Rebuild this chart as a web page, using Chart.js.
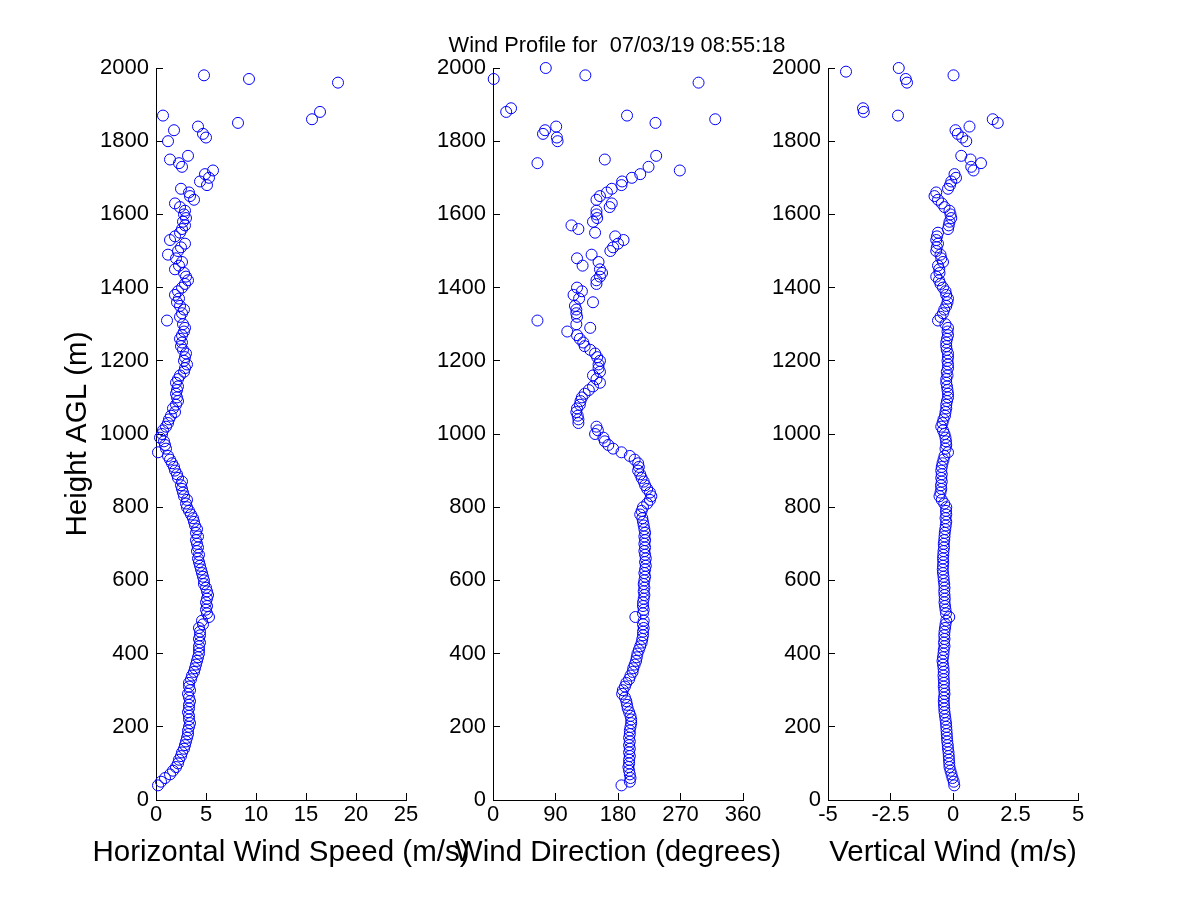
<!DOCTYPE html>
<html>
<head>
<meta charset="utf-8">
<title>Wind Profile</title>
<script src="https://cdn.jsdelivr.net/npm/chart.js@4.4.1/dist/chart.umd.min.js"></script>
<style>
  body { margin: 0; background: #fff; }
  #wrap { position: relative; width: 1200px; height: 900px; }
  #wrap canvas { position: absolute; left: 0; top: 0; }
</style>
</head>
<body>
<div id="wrap">
  <canvas id="speed-chart" width="1200" height="900"></canvas>
  <canvas id="dir-chart" width="1200" height="900"></canvas>
  <canvas id="vert-chart" width="1200" height="900"></canvas>
</div>
<script>
// heights (m AGL), top down; null = no value at that gate
const heights = [
  2000,
  1990, 1980, 1970, 1960, 1950, 1940, 1930, 1920, 1910, 1900,
  1890, 1880, 1870, 1860, 1850, 1840, 1830, 1820, 1810, 1800,
  1790, 1780, 1770, 1760, 1750, 1740, 1730, 1720, 1710, 1700,
  1690, 1680, 1670, 1660, 1650, 1640, 1630, 1620, 1610, 1600,
  1590, 1580, 1570, 1560, 1550, 1540, 1530, 1520, 1510, 1500,
  1490, 1480, 1470, 1460, 1450, 1440, 1430, 1420, 1410, 1400,
  1390, 1380, 1370, 1360, 1350, 1340, 1330, 1320, 1310, 1300,
  1290, 1280, 1270, 1260, 1250, 1240, 1230, 1220, 1210, 1200,
  1190, 1180, 1170, 1160, 1150, 1140, 1130, 1120, 1110, 1100,
  1090, 1080, 1070, 1060, 1050, 1040, 1030, 1020, 1010, 1000,
  990, 980, 970, 960, 950, 940, 930, 920, 910, 900,
  890, 880, 870, 860, 850, 840, 830, 820, 810, 800,
  790, 780, 770, 760, 750, 740, 730, 720, 710, 700,
  690, 680, 670, 660, 650, 640, 630, 620, 610, 600,
  590, 580, 570, 560, 550, 540, 530, 520, 510, 500,
  490, 480, 470, 460, 450, 440, 430, 420, 410, 400,
  390, 380, 370, 360, 350, 340, 330, 320, 310, 300,
  290, 280, 270, 260, 250, 240, 230, 220, 210, 200,
  190, 180, 170, 160, 150, 140, 130, 120, 110, 100,
  90, 80, 70, 60, 50, 40
];

const hSpeed = [
  null,
  null, 4.8, 9.3, 18.2, null, null, null, null, null, null,
  null, 16.4, 0.7, 15.6, 8.2, 4.2, 1.8, 4.7, 5.0, 1.2,
  null, null, null, 3.2, 1.4, 2.3, 2.6, 5.7, 4.9, 5.3,
  4.4, 5.1, 2.5, 3.3, 3.4, 3.8, 1.9, 2.4, 2.9, 2.8,
  3.0, 2.7, 2.9, 2.6, 2.4, 1.9, 1.4, 2.9, 2.5, 2.2,
  1.2, 2.0, 2.6, 2.3, 1.9, 2.8, 3.0, 3.2, 2.9, 2.6,
  2.2, 1.9, 2.3, 2.1, 2.4, 2.8, 2.6, 2.4, 1.1, 2.7,
  2.9, 2.8, 2.6, 2.4, 2.6, 2.5, 2.7, 3.0, 2.9, 2.8,
  3.1, 2.9, 2.8, 2.4, 2.2, 2.0, 2.2, 2.1, 2.0, 2.1,
  2.2, 2.0, 1.7, 1.9, 1.5, 1.3, 1.2, 1.0, 0.7, 0.6,
  0.4, 0.8, 0.9, 1.0, 0.2, 1.2, 1.4, 1.6, 1.8, 1.9,
  2.1, 2.2, 2.6, 2.5, 2.6, 2.7, 2.8, 3.1, 3.0, 3.1,
  3.3, 3.5, 3.7, 3.8, 3.9, 4.1, 4.0, 4.2, 4.0, 4.1,
  4.2, 4.1, 4.3, 4.2, 4.3, 4.4, 4.5, 4.6, 4.7, 4.8,
  4.8, 5.0, 5.1, 5.2, 5.1, 5.0, 5.1, 5.0, 5.1, 5.3,
  4.6, 4.7, 4.3, 4.4, 4.4, 4.3, 4.4, 4.3, 4.3, 4.3,
  4.2, 4.1, 4.0, 3.9, 3.8, 3.6, 3.5, 3.3, 3.3, 3.4,
  3.2, 3.3, 3.4, 3.3, 3.3, 3.2, 3.3, 3.3, 3.4, 3.3,
  3.2, 3.2, 3.1, 3.0, 2.9, 2.8, 2.6, 2.5, 2.3, 2.2,
  2.0, 1.7, 1.4, 0.9, 0.5, 0.2
];

const windDir = [
  76,
  null, 133, 1, 296, null, null, null, null, null, null,
  26, 19, 193, 320, 234, 91, 75, 72, 92, 93,
  null, null, null, 235, 161, 64, 224, 269, 212, 200,
  186, 185, 171, 164, 154, 149, 171, 168, 149, 149,
  150, 144, 113, 123, 147, 176, 188, 180, 173, 169,
  142, 121, 152, 129, 154, 157, 154, 149, 149, 121,
  128, 116, 124, 144, 118, 120, 120, 121, 64, 120,
  140, 107, 121, 125, 130, 132, 140, 147, 150, 154,
  152, 152, 154, 144, 149, 154, 144, 138, 132, 128,
  126, 125, 121, 120, 122, 123, 123, 149, 151, 147,
  159, 161, 166, 173, 185, 197, 204, 209, 210, 209,
  212, 214, 217, 219, 222, 226, 228, 226, 222, 216,
  214, 212, 215, 216, 217, 218, 219, 218, 219, 218,
  219, 218, 219, 220, 219, 220, 219, 218, 219, 218,
  217, 218, 217, 218, 217, 216, 216, 217, 216, 205,
  217, 216, 217, 216, 216, 215, 214, 212, 210, 208,
  207, 206, 204, 202, 201, 198, 196, 192, 190, 187,
  186, 190, 192, 193, 194, 196, 198, 199, 199, 198,
  197, 197, 196, 197, 196, 197, 196, 197, 196, 196,
  195, 196, 197, 198, 197, 185
];

const vertWind = [
  -2.17,
  -4.28, 0.02, -1.89, -1.84, null, null, null, null, null, null,
  -3.6, -3.57, -2.2, 1.59, 1.79, 0.66, 0.1, 0.19, 0.37, 0.53,
  null, null, null, 0.33, 0.7, 1.12, 0.73, 0.82, 0.06, 0.12,
  -0.07, -0.12, -0.2, -0.67, -0.74, -0.6, -0.45, -0.34, -0.14, -0.1,
  -0.07, -0.14, -0.17, -0.2, -0.6, -0.64, -0.67, -0.6, -0.65, -0.67,
  -0.5, -0.47, -0.4, -0.6, -0.55, -0.54, -0.67, -0.56, -0.5, -0.4,
  -0.3, -0.27, -0.2, -0.22, -0.27, -0.35, -0.4, -0.5, -0.6, -0.3,
  -0.2, -0.22, -0.2, -0.24, -0.27, -0.27, -0.25, -0.2, -0.2, -0.22,
  -0.2, -0.2, -0.25, -0.22, -0.27, -0.27, -0.24, -0.22, -0.2, -0.2,
  -0.24, -0.27, -0.27, -0.3, -0.32, -0.38, -0.42, -0.47, -0.4, -0.34,
  -0.3, -0.28, -0.27, -0.3, -0.2, -0.34, -0.38, -0.42, -0.45, -0.47,
  -0.45, -0.47, -0.45, -0.48, -0.47, -0.5, -0.54, -0.45, -0.35, -0.27,
  -0.28, -0.27, -0.3, -0.27, -0.29, -0.31, -0.33, -0.34, -0.35, -0.37,
  -0.36, -0.38, -0.39, -0.4, -0.39, -0.4, -0.41, -0.4, -0.38, -0.37,
  -0.35, -0.34, -0.35, -0.34, -0.33, -0.34, -0.32, -0.3, -0.28, -0.15,
  -0.27, -0.3, -0.32, -0.34, -0.35, -0.34, -0.36, -0.34, -0.37, -0.38,
  -0.4, -0.42, -0.4, -0.38, -0.37, -0.38, -0.37, -0.36, -0.37, -0.35,
  -0.34, -0.36, -0.37, -0.36, -0.35, -0.34, -0.32, -0.3, -0.28, -0.27,
  -0.26, -0.25, -0.24, -0.23, -0.21, -0.2, -0.18, -0.17, -0.16, -0.15,
  -0.14, -0.1, -0.06, -0.02, 0.03, 0.05
];

const heightTicks = [0, 200, 400, 600, 800, 1000, 1200, 1400, 1600, 1800, 2000];
const speedTicks = [0, 5, 10, 15, 20, 25];
const dirTicks = [0, 90, 180, 270, 360];
const vertTicks = [-5, -2.5, 0, 2.5, 5];

const titleText = 'Wind Profile for  07/03/19 08:55:18';
const FONT = '"Liberation Sans", Arial, Helvetica, sans-serif';

Chart.defaults.font.family = FONT;
Chart.defaults.color = '#000';

// x-axis labels are wider than the panels, so draw them by hand (no maxWidth squeeze)
const panelText = {
  id: 'panelText',
  afterDraw(chart, args, opts) {
    const ctx = chart.ctx;
    const a = chart.chartArea;
    ctx.save();
    ctx.fillStyle = '#000';
    ctx.textAlign = 'center';
    ctx.textBaseline = 'alphabetic';
    ctx.font = '29.5px ' + FONT;
    ctx.fillText(opts.xLabel, (a.left + a.right) / 2, 861);
    if (opts.title) {
      ctx.font = '21.8px ' + FONT;
      ctx.fillText(opts.title, 617, 52);
    }
    ctx.restore();
  }
};

function toPoints(values) {
  const pts = [];
  heights.forEach((h, i) => {
    if (values[i] !== null) pts.push({ x: values[i], y: h });
  });
  return pts;
}

function makePanel(id, values, xTicks, padLeft, padRight, xLabel, opts) {
  opts = opts || {};
  const ctx = document.getElementById(id).getContext('2d');
  return new Chart(ctx, {
    type: 'scatter',
    data: {
      datasets: [{
        data: toPoints(values),
        pointStyle: 'circle',
        pointRadius: 5.5,
        pointHoverRadius: 5.5,
        borderColor: '#0000ff',
        backgroundColor: 'rgba(0,0,0,0)',
        borderWidth: 1,
        clip: 10
      }]
    },
    options: {
      responsive: false,
      animation: false,
      devicePixelRatio: 1,
      events: [],
      layout: { padding: { left: padLeft, right: padRight, top: 68, bottom: 0 } },
      scales: {
        x: {
          type: 'linear',
          position: 'bottom',
          min: xTicks[0],
          max: xTicks[xTicks.length - 1],
          afterBuildTicks: s => { s.ticks = xTicks.map(v => ({ value: v })); },
          afterFit: s => { s.height = 100; },
          ticks: { font: { size: 22 }, padding: 9, autoSkip: false, maxRotation: 0, callback: v => String(v) },
          grid: { drawOnChartArea: false, tickLength: -7, color: '#000' },
          border: { color: '#000', width: 1 }
        },
        y: {
          type: 'linear',
          position: 'left',
          min: 0,
          max: 2000,
          afterBuildTicks: s => { s.ticks = heightTicks.map(v => ({ value: v })); },
          afterFit: s => { s.width = 100; },
          ticks: { font: { size: 22 }, padding: 14, autoSkip: false, callback: v => String(v) },
          grid: { drawOnChartArea: false, tickLength: -7, color: '#000' },
          border: { color: '#000', width: 1 },
          title: {
            display: !!opts.yLabel,
            text: opts.yLabel || '',
            font: { size: 29.5 },
            padding: { top: 4, bottom: 0 }
          }
        }
      },
      plugins: {
        legend: { display: false },
        tooltip: { enabled: false },
        panelText: { xLabel: xLabel, title: opts.title }
      }
    },
    plugins: [panelText]
  });
}

makePanel('speed-chart', hSpeed, speedTicks, 56, 794, 'Horizontal Wind Speed (m/s)', { yLabel: 'Height AGL (m)' });
makePanel('dir-chart', windDir, dirTicks, 393, 457, 'Wind Direction (degrees)', { title: titleText });
makePanel('vert-chart', vertWind, vertTicks, 728, 122, 'Vertical Wind (m/s)');
</script>
</body>
</html>
